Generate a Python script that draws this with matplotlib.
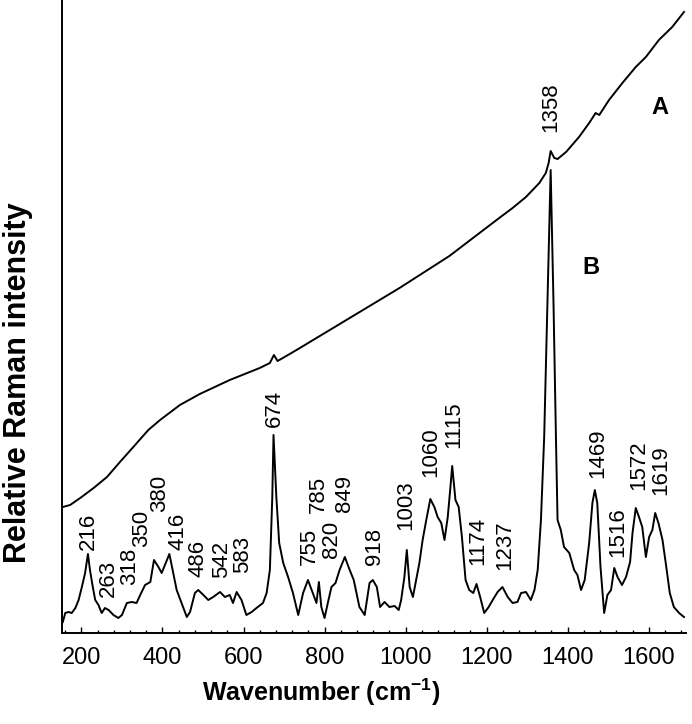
import matplotlib
matplotlib.use("Agg")
import matplotlib.pyplot as plt
from matplotlib.ticker import MultipleLocator

plt.rcParams['font.family'] = ['Liberation Sans', 'DejaVu Sans']
plt.rcParams['mathtext.fontset'] = 'custom'
plt.rcParams['mathtext.rm'] = 'Liberation Sans'
plt.rcParams['mathtext.bf'] = 'Liberation Sans:bold'
plt.rcParams['mathtext.default'] = 'bf'

# spectrum A (raw, rising background)
wn_a = [154, 172, 197, 230, 263, 295, 328, 365, 394, 443, 492, 566, 640, 665,
        675, 684, 714, 739, 862, 985, 1108, 1231, 1264, 1297, 1330, 1346, 1353,
        1358, 1367, 1375, 1396, 1428, 1453, 1469, 1478, 1502, 1535, 1568, 1593,
        1625, 1658, 1687]
int_a = [126, 128, 135, 145, 156, 171, 186, 203, 213, 228, 239, 253, 265, 270,
         278, 272, 279, 285, 315, 345, 377, 415, 425, 436, 450, 460, 470,
         482, 475, 474, 481, 496, 510, 520, 518, 533, 550, 566, 576,
         593, 606, 621]

# spectrum B (background corrected)
wn_b = [154, 160, 168, 176, 185, 193, 201, 209, 216, 221, 228, 234, 242, 250,
        258, 267, 279, 291, 300, 312, 324, 336, 345, 357, 370, 379, 390, 398,
        406, 417, 425, 435, 447, 460, 468, 480, 488, 501, 513, 525, 542, 554,
        566, 574, 583, 595, 607, 620, 632, 648, 657, 665, 671, 674, 681, 688,
        698, 710, 722, 735, 747, 759, 771, 780, 786, 792, 800, 808, 817, 827,
        837, 850, 862, 872, 886, 899, 911, 919, 929, 937, 948, 960, 973, 983,
        989, 997, 1003, 1010, 1018, 1026, 1034, 1042, 1051, 1061, 1071, 1079,
        1088, 1096, 1104, 1110, 1115, 1123, 1131, 1139, 1148, 1157, 1167, 1175,
        1184, 1194, 1205, 1215, 1227, 1239, 1252, 1264, 1276, 1285, 1297, 1309,
        1318, 1326, 1334, 1342, 1350, 1358, 1365, 1371, 1375, 1383, 1391, 1404,
        1416, 1424, 1433, 1442, 1453, 1461, 1467, 1473, 1481, 1490, 1498, 1507,
        1515, 1523, 1534, 1544, 1554, 1560, 1568, 1576, 1584, 1593, 1601, 1609,
        1616, 1624, 1634, 1642, 1652, 1662, 1675, 1687]
int_b = [11, 20, 21, 20, 25, 33, 46, 60, 79, 63, 46, 33, 28, 20,
         25, 23, 18, 15, 18, 30, 31, 30, 38, 48, 51, 73, 66, 60,
         68, 79, 63, 43, 30, 16, 21, 40, 43, 38, 33, 36, 41, 36,
         38, 30, 41, 33, 18, 21, 25, 30, 40, 63, 136, 198, 136, 90,
         70, 56, 40, 18, 40, 53, 40, 30, 51, 26, 15, 30, 46, 50,
         63, 76, 63, 53, 26, 18, 50, 53, 46, 26, 31, 26, 27, 23,
         33, 56, 83, 46, 36, 53, 70, 93, 113, 134, 126, 116,
         110, 93, 116, 143, 167, 133, 126, 96, 53, 43, 40, 49,
         36, 20, 26, 33, 41, 46, 36, 30, 31, 40, 41, 33,
         43, 63, 113, 196, 330, 463, 330, 196, 113, 103, 86, 80,
         63, 58, 43, 53, 90, 130, 143, 130, 66, 20, 38, 43,
         65, 56, 48, 56, 71, 100, 125, 116, 106, 76, 96, 103,
         120, 110, 93, 70, 40, 26, 20, 16]

# peak labels: text, x position, bottom of label
peak_text = ['216', '263', '318', '350', '380', '416', '486', '542', '583',
             '674', '755', '785', '820', '849', '918', '1003', '1060', '1115',
             '1174', '1237', '1358', '1469', '1516', '1572', '1619']
peak_x = [217, 266, 320, 349, 394, 439, 488, 546, 597, 677, 763, 784, 817,
          850, 923, 1001, 1063, 1120, 1178, 1244, 1359, 1473, 1523, 1576, 1630]
peak_y = [83, 36, 48, 86, 121, 83, 56, 55, 60, 206, 68, 120, 75, 121, 68,
          103, 156, 185, 68, 63, 501, 155, 76, 143, 138]

fig = plt.figure(figsize=(6.92, 7.24), dpi=100)
ax = fig.add_axes([62 / 692, 1 - 633 / 724, 624 / 692, 633 / 724])

ax.plot(wn_a, int_a, color='black', lw=1.4)
ax.plot(wn_b, int_b, color='black', lw=1.4)

for t, x, y in zip(peak_text, peak_x, peak_y):
    ax.text(x, y, t, rotation=90, ha='center', va='bottom', fontsize=16)

ax.text(1628, 526, 'A', ha='center', va='center', fontsize=17, fontweight='bold')
ax.text(1457, 366, 'B', ha='center', va='center', fontsize=17, fontweight='bold')

ax.set_xlim(152, 1692)
ax.set_ylim(0, 633)
ax.xaxis.set_major_locator(MultipleLocator(200))
ax.xaxis.set_minor_locator(MultipleLocator(40))
ax.tick_params(axis='x', which='major', direction='in', length=4.5, width=1,
               labelsize=17, pad=10)
ax.tick_params(axis='x', which='minor', direction='in', length=2.2, width=1)
ax.set_yticks([])
for s in ['top', 'right']:
    ax.spines[s].set_visible(False)
for s in ['left', 'bottom']:
    ax.spines[s].set_linewidth(1.4)

fig.text(321 / 692, 1 - 692 / 724, r'Wavenumber (cm$^{-1}$)', ha='center',
         va='center', fontsize=18, fontweight='bold')
fig.text(18 / 692, 1 - 383 / 724, 'Relative Raman intensity', rotation=90,
         ha='center', va='center', fontsize=22, fontweight='bold')

fig.savefig('out.png', dpi=100)
